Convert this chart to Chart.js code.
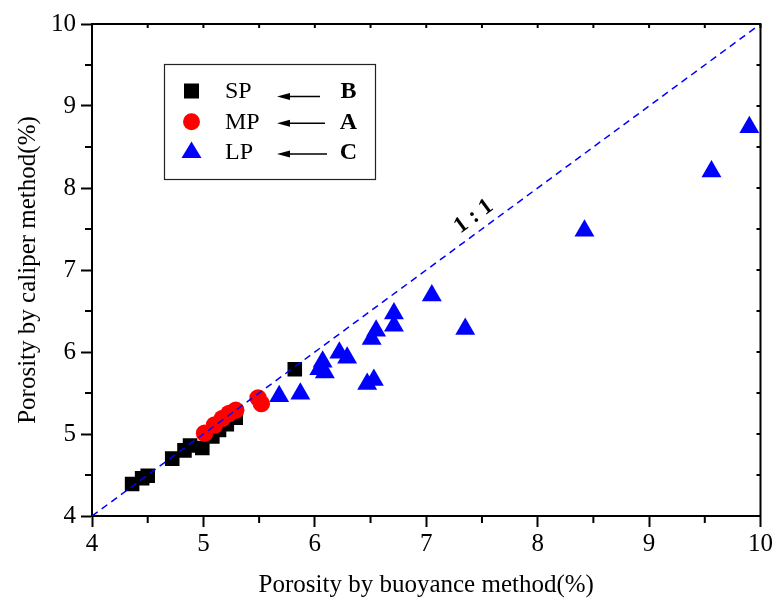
<!DOCTYPE html>
<html>
<head>
<meta charset="utf-8">
<script src="https://cdn.jsdelivr.net/npm/chart.js@4.4.1/dist/chart.umd.min.js"></script>
<style>
  html, body { margin: 0; padding: 0; background: #fff; }
  canvas { display: block; }
</style>
</head>
<body>
<canvas id="chart" width="775" height="605"></canvas>
<script>
// Porosity measured by buoyance method (x) vs caliper method (y), in %
const spX = [4.36, 4.45, 4.50, 4.72, 4.83, 4.88, 4.99, 5.08, 5.14, 5.21, 5.29, 5.82];
const spY = [4.39, 4.46, 4.49, 4.70, 4.80, 4.86, 4.83, 4.97, 5.05, 5.12, 5.20, 5.79];

const mpX = [5.01, 5.10, 5.17, 5.23, 5.29, 5.49, 5.52];
const mpY = [5.01, 5.11, 5.19, 5.25, 5.29, 5.44, 5.37];

const lpX = [5.68, 5.87, 6.07, 6.04, 6.09, 6.22, 6.29, 6.47, 6.53, 6.51, 6.55, 6.71, 6.71, 7.05, 7.35, 8.42, 9.56, 9.90];
const lpY = [5.46, 5.49, 5.88, 5.79, 5.75, 5.99, 5.93, 5.61, 5.66, 6.16, 6.26, 6.32, 6.47, 6.69, 6.28, 7.48, 8.20, 8.74];

// 1:1 reference line
const refX = [4, 10];
const refY = [4, 10];

const seriesNames = ['SP', 'MP', 'LP'];
const groupLetters = ['B', 'A', 'C'];
const xTicks = [4, 5, 6, 7, 8, 9, 10];
const yTicks = [4, 5, 6, 7, 8, 9, 10];

const FONT = "'Liberation Serif', 'Times New Roman', serif";
const pts = (xs, ys) => xs.map((x, i) => ({ x, y: ys[i] }));

// minor ticks on left/bottom and the closed frame with inward ticks on top/right
const framePlugin = {
  id: 'frame',
  afterDraw(chart) {
    const { ctx, chartArea: a, scales: { x, y } } = chart;
    ctx.save();
    ctx.strokeStyle = '#000';
    ctx.lineWidth = 2;
    ctx.beginPath();
    ctx.moveTo(a.left - 1, a.top);
    ctx.lineTo(a.right, a.top);
    ctx.lineTo(a.right, a.bottom + 1);
    ctx.stroke();
    ctx.beginPath();
    for (let v = 4; v <= 10.001; v += 0.5) {
      const isMajor = Math.abs(v - Math.round(v)) < 1e-6;
      const px = x.getPixelForValue(v);
      const py = y.getPixelForValue(v);
      if (!isMajor) {
        ctx.moveTo(px, a.bottom); ctx.lineTo(px, a.bottom + 7);
        ctx.moveTo(a.left, py); ctx.lineTo(a.left - 7, py);
      }
      ctx.moveTo(px, a.top); ctx.lineTo(px, a.top + 4);
      ctx.moveTo(a.right, py); ctx.lineTo(a.right - 4, py);
    }
    ctx.stroke();
    ctx.restore();
  }
};

// "1 : 1" label set along the reference line
const ratioLabelPlugin = {
  id: 'ratioLabel',
  afterDatasetsDraw(chart) {
    const { ctx, scales: { x, y } } = chart;
    const x0 = x.getPixelForValue(refX[0]), y0 = y.getPixelForValue(refY[0]);
    const x1 = x.getPixelForValue(refX[1]), y1 = y.getPixelForValue(refY[1]);
    const ang = Math.atan2(y1 - y0, x1 - x0);
    ctx.save();
    ctx.translate(x.getPixelForValue(7.42), y.getPixelForValue(7.42));
    ctx.rotate(ang);
    ctx.font = 'bold 23px ' + FONT;
    ctx.fillStyle = '#000';
    ctx.textAlign = 'center';
    ctx.textBaseline = 'middle';
    ctx.fillText('1 : 1', 12, -15);
    ctx.restore();
  }
};

// boxed legend: marker, series name, arrow, group letter
const groupLegendPlugin = {
  id: 'groupLegend',
  afterDraw(chart) {
    const ctx = chart.ctx;
    const box = { left: 164.5, top: 64.5, width: 211, height: 115 };
    const rows = [
      { my: 91, ty: 92, ay: 96.5, ax2: 320 },
      { my: 121.7, ty: 123, ay: 123.3, ax2: 325 },
      { my: 152.5, ty: 153, ay: 154, ax2: 327 }
    ];
    ctx.save();
    ctx.strokeStyle = '#222';
    ctx.lineWidth = 1.2;
    ctx.strokeRect(box.left, box.top, box.width, box.height);
    rows.forEach((r, i) => {
      const ds = chart.data.datasets[i];
      const cx = 191.5;
      ctx.fillStyle = ds.backgroundColor;
      ctx.beginPath();
      if (ds.pointStyle === 'rect') {
        ctx.rect(cx - 7.5, r.my - 7.5, 15, 15);
      } else if (ds.pointStyle === 'circle') {
        ctx.arc(cx, r.my, 8.5, 0, Math.PI * 2);
      } else {
        ctx.moveTo(cx, r.my - 11);
        ctx.lineTo(cx + 10, r.my + 5.5);
        ctx.lineTo(cx - 10, r.my + 5.5);
        ctx.closePath();
      }
      ctx.fill();

      ctx.fillStyle = '#000';
      ctx.textBaseline = 'middle';
      ctx.textAlign = 'left';
      ctx.font = '24px ' + FONT;
      ctx.fillText(ds.label, 225, r.ty);

      ctx.strokeStyle = '#000';
      ctx.lineWidth = 1.5;
      ctx.beginPath();
      ctx.moveTo(286, r.ay);
      ctx.lineTo(r.ax2, r.ay);
      ctx.stroke();
      ctx.beginPath();
      ctx.moveTo(277, r.ay);
      ctx.lineTo(290, r.ay - 3.5);
      ctx.lineTo(290, r.ay + 3.5);
      ctx.closePath();
      ctx.fill();

      ctx.textAlign = 'center';
      ctx.font = 'bold 24px ' + FONT;
      ctx.fillText(groupLetters[i], 348.5, r.ty);
    });
    ctx.restore();
  }
};

new Chart(document.getElementById('chart'), {
  type: 'scatter',
  data: {
    datasets: [
      { label: seriesNames[0], data: pts(spX, spY), pointStyle: 'rect', pointRadius: 10.3,
        backgroundColor: '#000000', borderColor: '#000000', borderWidth: 0, order: 2 },
      { label: seriesNames[1], data: pts(mpX, mpY), pointStyle: 'circle', pointRadius: 8.7,
        backgroundColor: '#ff0000', borderColor: '#ff0000', borderWidth: 0, order: 1 },
      { label: seriesNames[2], data: pts(lpX, lpY), pointStyle: 'triangle', pointRadius: 11.5,
        backgroundColor: '#0000ff', borderColor: '#0000ff', borderWidth: 0, order: 3 },
      { label: '1:1', data: pts(refX, refY), showLine: true, pointRadius: 0,
        borderColor: '#0000ff', borderWidth: 1.5, borderDash: [7, 5], order: 0 }
    ]
  },
  options: {
    responsive: false,
    animation: false,
    layout: { padding: { top: 24, right: 13, left: 0, bottom: 0 } },
    plugins: { legend: { display: false }, tooltip: { enabled: false } },
    scales: {
      x: {
        type: 'linear', min: 4, max: 10,
        afterBuildTicks: s => { s.ticks = xTicks.map(v => ({ value: v })); },
        afterFit: s => { s.height = 89; },
        grid: { display: true, drawOnChartArea: false, drawTicks: true, tickLength: 11, tickWidth: 2, tickColor: '#000' },
        border: { display: true, color: '#000', width: 2 },
        ticks: { color: '#000', padding: 2, font: { family: FONT, size: 25 }, maxRotation: 0 },
        title: { display: true, text: 'Porosity by buoyance method(%)', color: '#000',
                 font: { family: FONT, size: 25 }, padding: { top: 0, bottom: 5 } }
      },
      y: {
        type: 'linear', min: 4, max: 10,
        afterBuildTicks: s => { s.ticks = yTicks.map(v => ({ value: v })); },
        afterFit: s => { s.width = 92; },
        grid: { display: true, drawOnChartArea: false, drawTicks: true, tickLength: 11, tickWidth: 2, tickColor: '#000' },
        border: { display: true, color: '#000', width: 2 },
        ticks: { color: '#000', padding: 5, font: { family: FONT, size: 25 } },
        title: { display: true, text: 'Porosity by caliper method(%)', color: '#000',
                 font: { family: FONT, size: 25 }, padding: { top: 13, bottom: 0 } }
      }
    }
  },
  plugins: [framePlugin, ratioLabelPlugin, groupLegendPlugin]
});
</script>
</body>
</html>
